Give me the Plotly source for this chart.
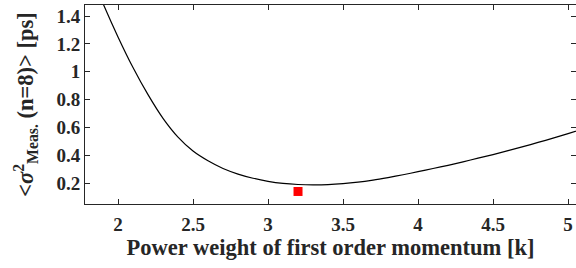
import plotly.graph_objects as go

k_vals = [1.85, 1.9, 2.0, 2.1, 2.2, 2.3, 2.4, 2.5, 2.6, 2.7, 2.8, 2.9, 3.0, 3.1, 3.2, 3.3, 3.4, 3.5, 3.6, 3.7, 3.8, 3.9, 4.0, 4.1, 4.2, 4.3, 4.4, 4.5, 4.6, 4.7, 4.8, 4.9, 5.0, 5.1]
sigma_vals = [1.62, 1.49, 1.25, 1.03, 0.835, 0.665, 0.53, 0.43, 0.36, 0.305, 0.265, 0.235, 0.213, 0.198, 0.19, 0.187, 0.189, 0.196, 0.207, 0.222, 0.24, 0.26, 0.282, 0.305, 0.328, 0.353, 0.379, 0.405, 0.433, 0.462, 0.492, 0.523, 0.555, 0.588]
best_k = [3.2]
best_sigma = [0.14]

x_ticks = [2, 2.5, 3, 3.5, 4, 4.5, 5]
x_tick_text = ["2", "2.5", "3", "3.5", "4", "4.5", "5"]
y_ticks = [0.2, 0.4, 0.6, 0.8, 1.0, 1.2, 1.4]
y_tick_text = ["0.2", "0.4", "0.6", "0.8", "1", "1.2", "1.4"]

fig = go.Figure()
fig.add_trace(go.Scatter(x=k_vals, y=sigma_vals, mode="lines", line=dict(color="black", width=1.2, shape="spline", smoothing=0.8), showlegend=False))
fig.add_trace(go.Scatter(x=best_k, y=best_sigma, mode="markers", marker=dict(color="#ff0000", size=9, symbol="square", line=dict(width=0)), showlegend=False))

FAM = "Liberation Serif"
tick_font = dict(size=19, family=FAM, color="#262626", weight="bold")
title_font = dict(size=22.5, family=FAM, color="#262626", weight="bold")
axis_common = dict(showline=True, linecolor="#262626", linewidth=1, mirror="ticks", ticks="inside", ticklen=5, tickcolor="#262626", tickwidth=1, showgrid=False, zeroline=False, automargin=False)

fig.update_layout(
    width=576, height=268,
    margin=dict(l=85, r=0, t=5, b=64),
    plot_bgcolor="white", paper_bgcolor="white",
    font=dict(family=FAM, color="#262626"),
    xaxis=dict(range=[1.78, 5.053], tickvals=x_ticks, ticktext=x_tick_text, tickfont=tick_font,
               ticklabelstandoff=3,
               title=dict(text="Power weight of first order momentum [k]", font=title_font, standoff=3),
               **axis_common),
    yaxis=dict(range=[0.05, 1.479], tickvals=y_ticks, ticktext=y_tick_text, tickfont=tick_font,
               title=dict(text="&lt;<i>σ</i><sup>2</sup><sub>Meas.</sub> (n=8)&gt; [ps]", font=title_font, standoff=16),
               **axis_common),
)
fig.write_html("out.html", config={"displayModeBar": False}, post_script="document.body.style.margin='0';")
